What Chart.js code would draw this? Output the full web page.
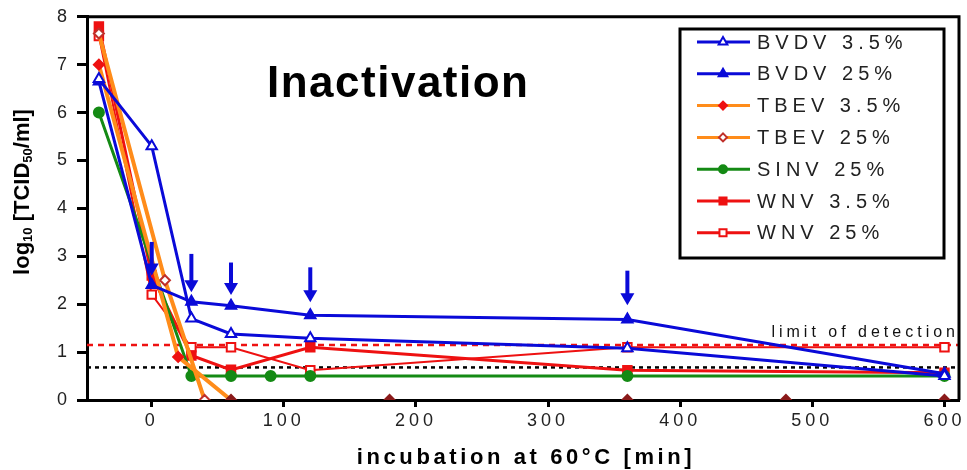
<!DOCTYPE html>
<html>
<head>
<meta charset="utf-8">
<script src="https://cdn.jsdelivr.net/npm/chart.js@4/dist/chart.umd.min.js"></script>
<style>
  html, body { margin: 0; padding: 0; background: #fff; }
  #wrap { width: 967px; height: 470px; }
</style>
</head>
<body>
<div id="wrap"><canvas id="myChart" width="967" height="470"></canvas></div>
<script>
// datos (minutos, log10 TCID50/ml)
const seriesNames = ['BVDV 3.5%', 'BVDV 25%', 'TBEV 3.5%', 'TBEV 25%', 'SINV 25%', 'WNV 3.5%', 'WNV 25%'];

const bvdv35X = [-40, 0, 30, 60, 120, 360, 600];
const bvdv35Y = [6.7, 5.3, 1.7, 1.38, 1.29, 1.08, 0.5];

const bvdv25X = [-40, 0, 30, 60, 120, 360, 600];
const bvdv25Y = [6.65, 2.4, 2.05, 1.97, 1.77, 1.68, 0.55];

const tbev35X = [-40, 20, 60, 180, 360, 480, 600];
const tbev35Y = [7.0, 0.9, 0, 0, 0, 0, 0];

const tbev25X = [-40, 10, 40];
const tbev25Y = [7.65, 2.5, 0];

const sinvX = [-40, 30, 60, 90, 120, 360, 600];
const sinvY = [6.0, 0.5, 0.5, 0.5, 0.5, 0.5, 0.5];

const wnv35X = [-40, 0, 30, 60, 120, 360, 600];
const wnv35Y = [7.8, 2.6, 0.93, 0.63, 1.1, 0.62, 0.57];

const wnv25X = [-40, 0, 30, 60, 120, 360, 600];
const wnv25Y = [7.6, 2.2, 1.1, 1.1, 0.62, 1.1, 1.1];

// lineas horizontales
const detectionLimit = 1.15;
const blackLine = 0.68;

// flechas (x, arriba, punta)
const arrowX = [0, 30, 60, 120, 360];
const arrowTop = [3.3, 3.05, 2.87, 2.77, 2.7];
const arrowTip = [2.6, 2.25, 2.19, 2.04, 1.98];

const xTickVals = [0, 100, 200, 300, 400, 500, 600];
const xMin = -49, xMax = 611;
const yMin = 0, yMax = 8;

const FONT = "'Liberation Sans', Arial, sans-serif";
const BLUE = '#0a0ad8';
const ORANGE = '#ff8c1a';
const GREEN = '#148a14';
const RED = '#ee1111';
const DARKRED = '#8b1a1a';

function pts(xs, ys) {
  return xs.map((x, i) => ({ x: x, y: ys[i] }));
}

const series = [
  { label: seriesNames[0], data: pts(bvdv35X, bvdv35Y), borderColor: BLUE, pointStyle: 'triangle',
    pointBackgroundColor: '#fff', pointBorderColor: BLUE, pointRadius: 6, borderWidth: 3 },
  { label: seriesNames[1], data: pts(bvdv25X, bvdv25Y), borderColor: BLUE, pointStyle: 'triangle',
    pointBackgroundColor: BLUE, pointBorderColor: BLUE, pointRadius: 6, borderWidth: 3 },
  { label: seriesNames[2], data: pts(tbev35X, tbev35Y), borderColor: ORANGE, pointStyle: 'rectRot',
    pointBackgroundColor: tbev35Y.map(v => v === 0 ? DARKRED : RED),
    pointBorderColor: tbev35Y.map(v => v === 0 ? DARKRED : RED), pointRadius: 5, borderWidth: 4,
    segment: { borderColor: c => (c.p0.parsed.y === 0 && c.p1.parsed.y === 0) ? 'rgba(0,0,0,0)' : undefined } },
  { label: seriesNames[3], data: pts(tbev25X, tbev25Y), borderColor: ORANGE, pointStyle: 'rectRot',
    pointBackgroundColor: '#fff', pointBorderColor: '#c0302a', pointRadius: 5, borderWidth: 4 },
  { label: seriesNames[4], data: pts(sinvX, sinvY), borderColor: GREEN, pointStyle: 'circle',
    pointBackgroundColor: GREEN, pointBorderColor: GREEN, pointRadius: 5, borderWidth: 3 },
  { label: seriesNames[5], data: pts(wnv35X, wnv35Y), borderColor: RED, pointStyle: 'rect',
    pointBackgroundColor: RED, pointBorderColor: RED, pointRadius: 6, borderWidth: 3 },
  { label: seriesNames[6], data: pts(wnv25X, wnv25Y), borderColor: RED, pointStyle: 'rect',
    pointBackgroundColor: '#fff', pointBorderColor: RED, pointRadius: 6, borderWidth: 2 },
];

const refLines = [
  { label: 'limit', data: pts([xMin, xMax], [detectionLimit, detectionLimit]), borderColor: RED,
    borderDash: [6, 5], borderWidth: 2.5, pointRadius: 0 },
  { label: 'black', data: pts([xMin, xMax], [blackLine, blackLine]), borderColor: '#000',
    borderDash: [4, 4], borderWidth: 2.5, pointRadius: 0 },
];

const datasets = series.map(s => Object.assign({ showLine: true, tension: 0, pointBorderWidth: 2 }, s))
  .concat(refLines.map(s => Object.assign({ showLine: true }, s)));

// textos, flechas, marco y leyenda
const extras = {
  id: 'extras',
  beforeDraw(chart) {
    chart.ctx.letterSpacing = '4px';
  },
  afterDatasetsDraw(chart) {
    const ctx = chart.ctx, xs = chart.scales.x, ys = chart.scales.y, a = chart.chartArea;
    ctx.save();
    ctx.letterSpacing = '0px';
    // flechas
    ctx.strokeStyle = BLUE; ctx.fillStyle = BLUE; ctx.lineWidth = 4;
    arrowX.forEach((x, i) => {
      const px = xs.getPixelForValue(x);
      const top = ys.getPixelForValue(arrowTop[i]);
      const tip = ys.getPixelForValue(arrowTip[i]);
      ctx.beginPath(); ctx.moveTo(px, top); ctx.lineTo(px, tip - 9); ctx.stroke();
      ctx.beginPath(); ctx.moveTo(px - 7, tip - 12); ctx.lineTo(px + 7, tip - 12); ctx.lineTo(px, tip); ctx.closePath(); ctx.fill();
    });
    // marco arriba y derecha
    ctx.strokeStyle = '#000'; ctx.lineWidth = 3;
    ctx.beginPath(); ctx.moveTo(a.left, a.top); ctx.lineTo(a.right, a.top); ctx.lineTo(a.right, a.bottom); ctx.stroke();
    // titulo
    ctx.fillStyle = '#000';
    ctx.font = 'bold 44px ' + FONT;
    ctx.letterSpacing = '1.5px';
    ctx.textBaseline = 'middle'; ctx.textAlign = 'left';
    ctx.fillText('Inactivation', 267, 85);
    // limit of detection
    ctx.font = '16px ' + FONT;
    ctx.letterSpacing = '4px';
    ctx.fillStyle = '#111';
    ctx.textAlign = 'right';
    ctx.fillText('limit of detection', 959, 333);
    // leyenda
    ctx.letterSpacing = '0px';
    ctx.fillStyle = '#fff';
    ctx.fillRect(680, 29, 264, 229);
    ctx.strokeStyle = '#000'; ctx.lineWidth = 3;
    ctx.strokeRect(680, 29, 264, 229);
    ctx.font = '20px ' + FONT;
    ctx.textAlign = 'left';
    series.forEach((s, i) => {
      const yy = 42 + i * 31.8;
      ctx.strokeStyle = s.borderColor; ctx.lineWidth = 3;
      ctx.beginPath(); ctx.moveTo(697, yy); ctx.lineTo(750, yy); ctx.stroke();
      const bg = Array.isArray(s.pointBackgroundColor) ? s.pointBackgroundColor[0] : s.pointBackgroundColor;
      const bc = Array.isArray(s.pointBorderColor) ? s.pointBorderColor[0] : s.pointBorderColor;
      ctx.fillStyle = bg; ctx.strokeStyle = bc; ctx.lineWidth = 2;
      Chart.helpers.drawPoint(ctx, { pointStyle: s.pointStyle, radius: s.pointRadius - 1, rotation: 0, borderWidth: 2 }, 723, yy);
      ctx.fillStyle = '#222';
      ctx.letterSpacing = '5px';
      ctx.fillText(s.label, 757, yy + 1);
      ctx.letterSpacing = '0px';
    });
    // titulo eje x
    ctx.fillStyle = '#000';
    ctx.font = 'bold 22px ' + FONT;
    ctx.letterSpacing = '3.6px';
    ctx.textAlign = 'center';
    ctx.fillText('incubation at 60°C [min]', 526, 458);
    // titulo eje y con subindices
    ctx.letterSpacing = '0px';
    const parts = [['log', 22, 0], ['10', 13, 5], [' [TCID', 22, 0], ['50', 13, 5], ['/ml]', 22, 0]];
    let total = 0;
    parts.forEach(p => { ctx.font = 'bold ' + p[1] + 'px ' + FONT; total += ctx.measureText(p[0]).width; });
    ctx.translate(23, 192);
    ctx.rotate(-Math.PI / 2);
    ctx.textAlign = 'left';
    let cx = -total / 2;
    parts.forEach(p => {
      ctx.font = 'bold ' + p[1] + 'px ' + FONT;
      ctx.fillText(p[0], cx, p[2]);
      cx += ctx.measureText(p[0]).width;
    });
    ctx.restore();
  }
};

const config = {
  type: 'scatter',
  data: { datasets: datasets },
  options: {
    responsive: false,
    animation: false,
    layout: { padding: { top: 16, right: 5, left: 0, bottom: 0 } },
    plugins: { legend: { display: false }, tooltip: { enabled: false } },
    scales: {
      x: {
        type: 'linear', min: xMin, max: xMax,
        afterBuildTicks: s => { s.ticks = xTickVals.map(v => ({ value: v })); },
        afterFit: s => { s.height = 70; },
        grid: { drawOnChartArea: false, tickLength: 7, tickWidth: 3, tickColor: '#000' },
        border: { width: 3, color: '#000' },
        ticks: { font: { family: FONT, size: 18 }, color: '#222', padding: 3 }
      },
      y: {
        type: 'linear', min: yMin, max: yMax,
        ticks: { stepSize: 1, font: { family: FONT, size: 18 }, color: '#222', padding: 6 },
        afterFit: s => { s.width = 87; },
        grid: { drawOnChartArea: false, tickLength: 10, tickWidth: 3, tickColor: '#000' },
        border: { width: 3, color: '#000' }
      }
    }
  },
  plugins: [extras]
};

const myChart = new Chart(document.getElementById('myChart'), config);
</script>
</body>
</html>
